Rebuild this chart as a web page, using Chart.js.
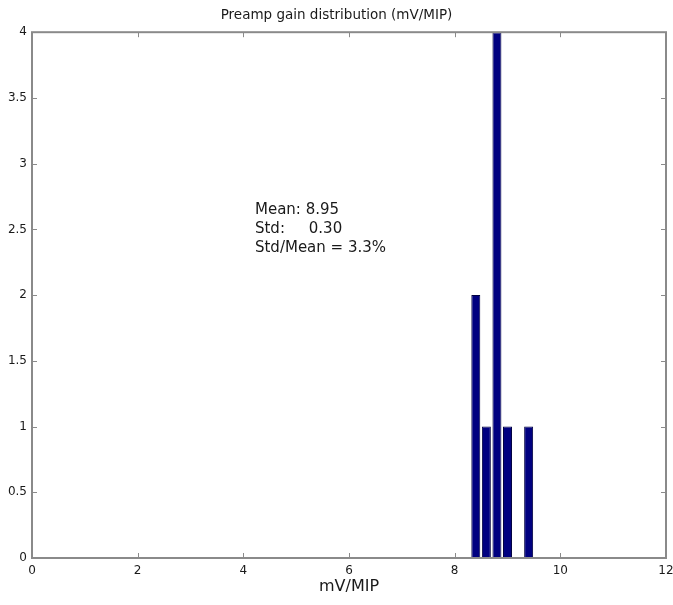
<!DOCTYPE html>
<html>
<head>
<meta charset="utf-8">
<script src="https://cdn.jsdelivr.net/npm/chart.js@4"></script>
<style>
  html, body { margin: 0; padding: 0; background: #fff; }
  #wrap { width: 673px; height: 605px; }
</style>
</head>
<body>
<div id="wrap"><canvas id="gainChart"></canvas></div>
<script>
// Histogram bins (mV/MIP) and counts
const BIN_CENTERS = [8.4, 8.6, 8.8, 9.0, 9.4];
const COUNTS = [2, 1, 4, 1, 1];

const X_TICKS = [0, 2, 4, 6, 8, 10, 12];
const Y_TICKS = [0, 0.5, 1, 1.5, 2, 2.5, 3, 3.5, 4];

const STATS_LINES = ["Mean: 8.95", "Std:     0.30", "Std/Mean = 3.3%"];
const STATS_POS = { x: 4.22, y: 2.615 }; // data coords of first baseline

const AXIS_GREY = "#8a8a8a";
const TEXT_COLOR = "#1a1a1a";
const FONT = "'DejaVu Sans', Arial, sans-serif";

// MATLAB style box with inward ticks + text annotation
const boxPlugin = {
    id: "matlabBox",
    afterDatasetsDraw(chart) {
        const { ctx, chartArea: a, scales } = chart;
        const tl = 5;
        ctx.save();
        ctx.strokeStyle = AXIS_GREY;
        ctx.lineWidth = 1;
        ctx.beginPath();
        X_TICKS.forEach(v => {
            const px = Math.round(scales.x.getPixelForValue(v)) + 0.5;
            ctx.moveTo(px, a.bottom); ctx.lineTo(px, a.bottom - tl);
            ctx.moveTo(px, a.top); ctx.lineTo(px, a.top + tl);
        });
        Y_TICKS.forEach(v => {
            const py = Math.round(scales.y.getPixelForValue(v)) + 0.5;
            ctx.moveTo(a.left, py); ctx.lineTo(a.left + tl, py);
            ctx.moveTo(a.right, py); ctx.lineTo(a.right - tl, py);
        });
        ctx.stroke();
        ctx.lineWidth = 2;
        ctx.strokeRect(a.left, a.top, a.right - a.left, a.bottom - a.top);

        // stats text
        ctx.fillStyle = TEXT_COLOR;
        ctx.font = "15px " + FONT;
        ctx.textAlign = "left";
        ctx.textBaseline = "alphabetic";
        const x0 = scales.x.getPixelForValue(STATS_POS.x);
        const y0 = scales.y.getPixelForValue(STATS_POS.y);
        STATS_LINES.forEach((line, i) => ctx.fillText(line, x0, y0 + i * 19));
        ctx.restore();
    }
};

window.addEventListener("DOMContentLoaded", () => {
    const ctx = document.getElementById("gainChart").getContext("2d");

    new Chart(ctx, {
        type: "bar",
        data: {
            datasets: [{
                label: "Counts",
                data: BIN_CENTERS.map((x, i) => ({ x: x, y: COUNTS[i] })),
                backgroundColor: "#000080",
                borderColor: "#000040",
                borderWidth: 1,
                borderSkipped: false,
                barPercentage: 0.85,
                categoryPercentage: 1.0
            }]
        },
        options: {
            responsive: true,
            maintainAspectRatio: false,
            animation: false,
            layout: { padding: 0 },
            scales: {
                x: {
                    type: "linear",
                    min: 0,
                    max: 12,
                    offset: false,
                    afterBuildTicks: s => { s.ticks = X_TICKS.map(v => ({ value: v })); },
                    afterFit: s => { s.height = 47; s.paddingRight = 7; s.paddingLeft = 0; },
                    grid: { display: false, drawTicks: false },
                    border: { display: false },
                    ticks: { color: TEXT_COLOR, font: { family: FONT, size: 12 }, padding: 6, maxRotation: 0 },
                    title: {
                        display: true,
                        text: "mV/MIP",
                        color: TEXT_COLOR,
                        font: { family: FONT, size: 16 },
                        padding: { top: 0, bottom: 9 }
                    }
                },
                y: {
                    min: 0,
                    max: 4,
                    afterBuildTicks: s => { s.ticks = Y_TICKS.map(v => ({ value: v })); },
                    afterFit: s => { s.width = 32; },
                    grid: { display: false, drawTicks: false },
                    border: { display: false },
                    ticks: {
                        color: TEXT_COLOR,
                        font: { family: FONT, size: 12 },
                        padding: 5,
                        callback: v => String(v)
                    }
                }
            },
            plugins: {
                legend: { display: false },
                tooltip: { enabled: false },
                title: {
                    display: true,
                    text: "Preamp gain distribution (mV/MIP)",
                    color: TEXT_COLOR,
                    font: { family: FONT, size: 13.5, weight: "normal" },
                    padding: { top: 7, bottom: 9 }
                }
            }
        },
        plugins: [boxPlugin]
    });
});
</script>
</body>
</html>
